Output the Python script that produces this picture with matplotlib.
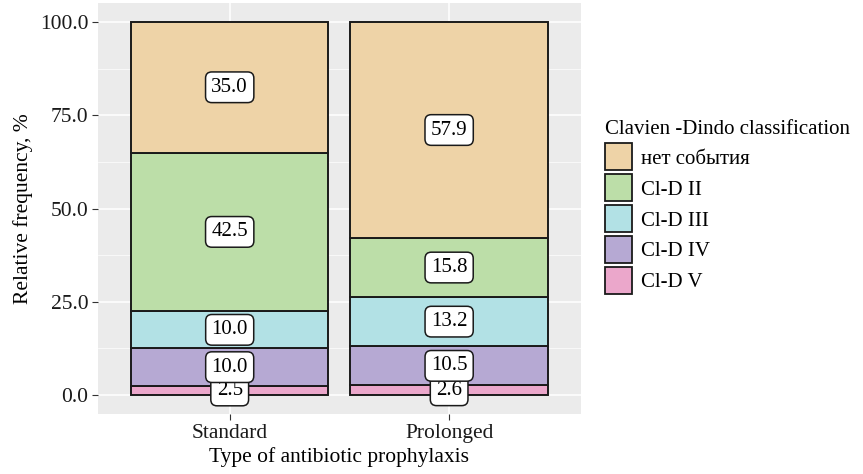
import matplotlib.pyplot as plt
from matplotlib.patches import Patch
import numpy as np

plt.rcParams['font.family'] = ['Liberation Serif', 'DejaVu Serif']

groups = ['Standard', 'Prolonged']
# stacking order from bottom to top
classes = ['Cl-D V', 'Cl-D IV', 'Cl-D III', 'Cl-D II', 'нет события']
values = {
    'Cl-D V': [2.5, 2.6],
    'Cl-D IV': [10.0, 10.5],
    'Cl-D III': [10.0, 13.2],
    'Cl-D II': [42.5, 15.8],
    'нет события': [35.0, 57.9],
}
colors = {
    'Cl-D V': '#EBA7CB',
    'Cl-D IV': '#B6A9D3',
    'Cl-D III': '#B2E1E5',
    'Cl-D II': '#BCDEA8',
    'нет события': '#EED3A7',
}
yticks = [0, 25, 50, 75, 100]

fig = plt.figure(figsize=(8.63, 4.74), dpi=100)
ax = fig.add_axes([0.1136, 0.127, 0.5594, 0.866])
ax.set_facecolor('#EBEBEB')

x = np.arange(1, len(groups) + 1)
bottom = np.zeros(len(groups))
for c in classes:
    v = np.array(values[c])
    ax.bar(x, v, 0.9, bottom=bottom, color=colors[c], edgecolor='#1a1a1a',
           linewidth=1.4, zorder=3)
    for xi, b, vi in zip(x, bottom, v):
        ax.text(xi, b + vi / 2, '%.1f' % vi, ha='center', va='center',
                fontsize=15, zorder=5,
                bbox=dict(boxstyle='round,pad=0.28,rounding_size=0.3',
                          fc='white', ec='#1a1a1a', lw=1.1))
    bottom += v

ax.set_xlim(0.4, 2.6)
ax.set_ylim(-5, 105)
ax.set_yticks(yticks)
ax.set_yticklabels(['%.1f' % t for t in yticks])
ax.set_yticks([12.5, 37.5, 62.5, 87.5], minor=True)
ax.set_xticks(x)
ax.set_xticklabels(groups)
ax.grid(True, which='major', color='white', linewidth=1.1, zorder=0)
ax.grid(True, which='minor', axis='y', color='white', linewidth=0.5, zorder=0)
ax.set_axisbelow(True)
for s in ax.spines.values():
    s.set_visible(False)
ax.tick_params(which='major', length=4, color='#333333', labelsize=15.5,
               labelcolor='#1a1a1a', pad=3)
ax.tick_params(which='minor', length=0)

ax.set_xlabel('Type of antibiotic prophylaxis', fontsize=15.5, labelpad=3)
ax.set_ylabel('Relative frequency, %', fontsize=15.5, labelpad=5)

handles = [Patch(facecolor=colors[c], edgecolor='#1a1a1a', linewidth=1.3)
           for c in classes[::-1]]
leg = fig.legend(handles, classes[::-1], title='Clavien -Dindo classification',
                 loc='center left', bbox_to_anchor=(0.699, 0.563),
                 frameon=False, fontsize=15, title_fontsize=15,
                 handlelength=1.3, handleheight=1.6, labelspacing=0.2,
                 handletextpad=0.4, borderaxespad=0, borderpad=0.1,
                 alignment='left')

fig.savefig('out.png', dpi=100)
